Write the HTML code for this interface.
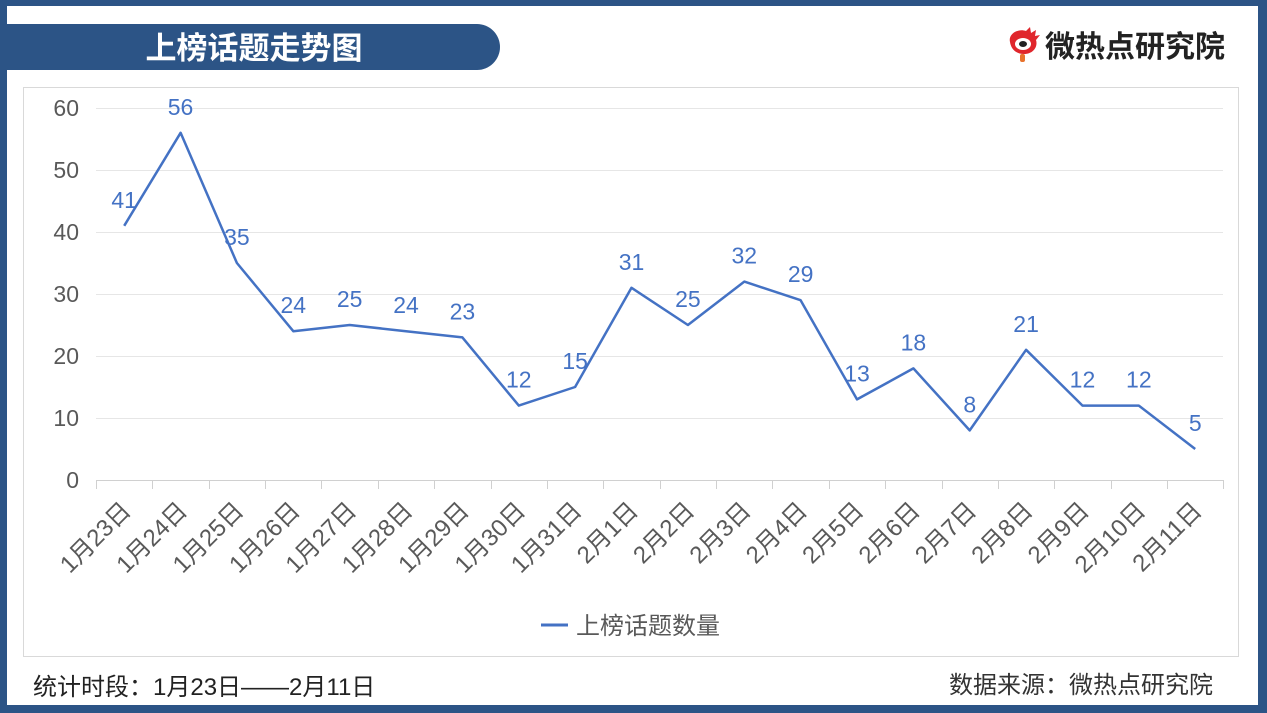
<!DOCTYPE html>
<html><head><meta charset="utf-8"><style>
html,body{margin:0;padding:0;background:#2c5486;}
body{width:1267px;height:713px;overflow:hidden;position:relative;font-family:"Liberation Sans","Noto Sans CJK SC",sans-serif;}
</style></head><body>
<svg width="1267" height="713" xmlns="http://www.w3.org/2000/svg" style="position:absolute;left:0;top:0" font-family="Liberation Sans, Noto Sans CJK SC, sans-serif">
<rect x="0" y="0" width="1267" height="713" fill="#2c5486"/>
<rect x="7" y="6" width="1251" height="699" fill="#fff"/>
<path d="M7 24 H477 A23 23 0 0 1 477 70 H7 Z" fill="#2c5486"/>
<text x="254" y="59" text-anchor="middle" font-size="31" font-weight="bold" fill="#fff">上榜话题走势图</text>
<!-- logo -->
<g transform="translate(1006,28)">
<path d="M4 14 C2 6 12 0 20 3 L24 -1 L25 5 L30 2 L29 8 L34 7 L30 12 C32 18 28 26 18 26 C10 26 5 21 4 14 Z" fill="#e0262c"/>
<ellipse cx="17" cy="16" rx="8" ry="6" fill="#fff"/>
<ellipse cx="17" cy="16" rx="4" ry="3" fill="#222"/>
<rect x="14" y="26" width="5" height="8" rx="2" fill="#e8722c"/>
</g>
<text x="1045" y="57" font-size="30" font-weight="bold" fill="#222">微热点研究院</text>
<!-- chart box -->
<rect x="23.5" y="87.5" width="1215" height="569" fill="#fff" stroke="#d9d9d9"/>
<g stroke="#e6e6e6" stroke-width="1">
<line x1="96" x2="1223" y1="108.5" y2="108.5"/>
<line x1="96" x2="1223" y1="170.5" y2="170.5"/>
<line x1="96" x2="1223" y1="232.5" y2="232.5"/>
<line x1="96" x2="1223" y1="294.5" y2="294.5"/>
<line x1="96" x2="1223" y1="356.5" y2="356.5"/>
<line x1="96" x2="1223" y1="418.5" y2="418.5"/>
</g>
<g stroke="#d0d0d0" stroke-width="1">
<line x1="96" x2="1223" y1="480.5" y2="480.5"/>
</g>
<g font-size="23" fill="#595959" text-anchor="end">
<text x="79" y="116">60</text><text x="79" y="178">50</text><text x="79" y="240">40</text>
<text x="79" y="302">30</text><text x="79" y="364">20</text><text x="79" y="426">10</text><text x="79" y="488">0</text>
</g>
<g id="ticks" stroke="#d0d0d0"></g>
<g id="xl" font-size="24" fill="#595959" text-anchor="end"></g>
<polyline id="ln" fill="none" stroke="#4472c4" stroke-width="2.5" stroke-linejoin="round"/>
<g id="dl" font-size="23" fill="#4472c4" text-anchor="middle"></g>
<line x1="541" x2="568" y1="625" y2="625" stroke="#4472c4" stroke-width="3"/>
<text x="576" y="634" font-size="24" fill="#595959">上榜话题数量</text>
<text x="33" y="695" font-size="24" fill="#222">统计时段：1月23日——2月11日</text>
<text x="1213" y="693" font-size="24" fill="#333" text-anchor="end">数据来源：微热点研究院</text>
</svg>
<script>
var ns="http://www.w3.org/2000/svg";
var d=[41,56,35,24,25,24,23,12,15,31,25,32,29,13,18,8,21,12,12,5];
var lab=["1月23日","1月24日","1月25日","1月26日","1月27日","1月28日","1月29日","1月30日","1月31日","2月1日","2月2日","2月3日","2月4日","2月5日","2月6日","2月7日","2月8日","2月9日","2月10日","2月11日"];
var st=56.37,x0=96,pts=[];
var tk=document.getElementById("ticks"),xl=document.getElementById("xl"),dl=document.getElementById("dl");
for(var i=0;i<=20;i++){var l=document.createElementNS(ns,"line");var x=Math.round(x0+i*st)+0.5;l.setAttribute("x1",x);l.setAttribute("x2",x);l.setAttribute("y1",480);l.setAttribute("y2",489);tk.appendChild(l);}
d.forEach(function(v,i){var x=x0+st*(i+0.5),y=480-v*6.2;pts.push(x.toFixed(1)+","+y.toFixed(1));
var t=document.createElementNS(ns,"text");t.setAttribute("x",x);t.setAttribute("y",y-18);t.textContent=v;dl.appendChild(t);
var s=document.createElementNS(ns,"text");s.setAttribute("transform","translate("+(x+8)+",512) rotate(-45)");s.textContent=lab[i];xl.appendChild(s);});
document.getElementById("ln").setAttribute("points",pts.join(" "));
</script>
</body></html>
